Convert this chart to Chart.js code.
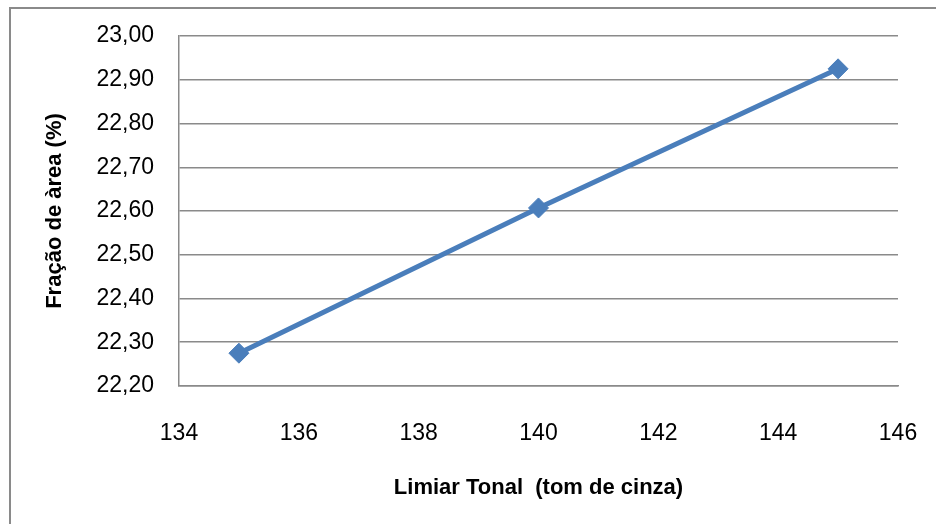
<!DOCTYPE html>
<html>
<head>
<meta charset="utf-8">
<script src="https://cdn.jsdelivr.net/npm/chart.js@4.4.1/dist/chart.umd.min.js"></script>
<style>
  html, body { margin: 0; padding: 0; background: #fff; overflow: hidden; }
  #wrap { position: relative; width: 936px; height: 524px; }
  #frame { position: absolute; left: 9px; top: 7px; width: 1000px; height: 600px;
           border: 2px solid #8a8a8a; pointer-events: none; }
</style>
</head>
<body>
<div id="wrap">
  <canvas id="chart" width="936" height="524"></canvas>
  <div id="frame"></div>
</div>
<script>
// Limiar tonal (tom de cinza) vs fração de área (%)
const limiar = [135, 140, 145];
const fracaoArea = [22.275, 22.607, 22.925];
const xTicks = [134, 136, 138, 140, 142, 144, 146];
const yTicks = [22.2, 22.3, 22.4, 22.5, 22.6, 22.7, 22.8, 22.9, 23.0];

const lineColor = '#4A7EBB';
const axisGrey = '#8a8a8a';
const fontFamily = '"Liberation Sans", Arial, sans-serif';

const ctx = document.getElementById('chart').getContext('2d');

new Chart(ctx, {
    type: 'line',
    data: {
        datasets: [{
            data: limiar.map((x, i) => ({ x: x, y: fracaoArea[i] })),
            borderColor: lineColor,
            backgroundColor: lineColor,
            borderWidth: 5,
            tension: 0,
            fill: false,
            pointStyle: 'rectRot',
            pointRadius: 10,
            pointBorderWidth: 1,
            pointBackgroundColor: lineColor,
            pointBorderColor: lineColor
        }]
    },
    options: {
        responsive: false,
        animation: false,
        events: [],
        layout: { padding: { left: 0, top: 36, right: 38, bottom: 0 } },
        plugins: { legend: { display: false }, tooltip: { enabled: false } },
        scales: {
            x: {
                type: 'linear',
                min: xTicks[0],
                max: xTicks[xTicks.length - 1],
                afterBuildTicks: scale => { scale.ticks = xTicks.map(v => ({ value: v })); },
                afterFit: scale => {
                    scale.height = 138;
                    scale.paddingLeft = 0;
                    scale.paddingRight = 0;
                },
                grid: { display: false, drawTicks: false },
                border: { display: true, color: axisGrey, width: 1.5 },
                ticks: {
                    padding: 34,
                    color: '#000',
                    font: { family: fontFamily, size: 23 },
                    callback: v => String(v)
                },
                title: {
                    display: true,
                    text: 'Limiar Tonal  (tom de cinza)',
                    color: '#000',
                    font: { family: fontFamily, size: 22, weight: 'bold' },
                    padding: { top: 0, bottom: 23 }
                }
            },
            y: {
                type: 'linear',
                min: yTicks[0],
                max: yTicks[yTicks.length - 1],
                afterBuildTicks: scale => { scale.ticks = yTicks.map(v => ({ value: v })); },
                afterFit: scale => {
                    scale.width = 179;
                    scale.paddingTop = 0;
                    scale.paddingBottom = 0;
                },
                grid: { color: axisGrey, lineWidth: 1.5, drawTicks: false },
                border: { display: true, color: axisGrey, width: 1.5 },
                ticks: {
                    padding: 25,
                    color: '#000',
                    font: { family: fontFamily, size: 23 },
                    callback: v => v.toFixed(2).replace('.', ',')
                },
                title: {
                    display: true,
                    text: 'Fração de àrea (%)',
                    color: '#000',
                    font: { family: fontFamily, size: 22, weight: 'bold' },
                    padding: { top: 42, bottom: 0 }
                }
            }
        }
    }
});
</script>
</body>
</html>
